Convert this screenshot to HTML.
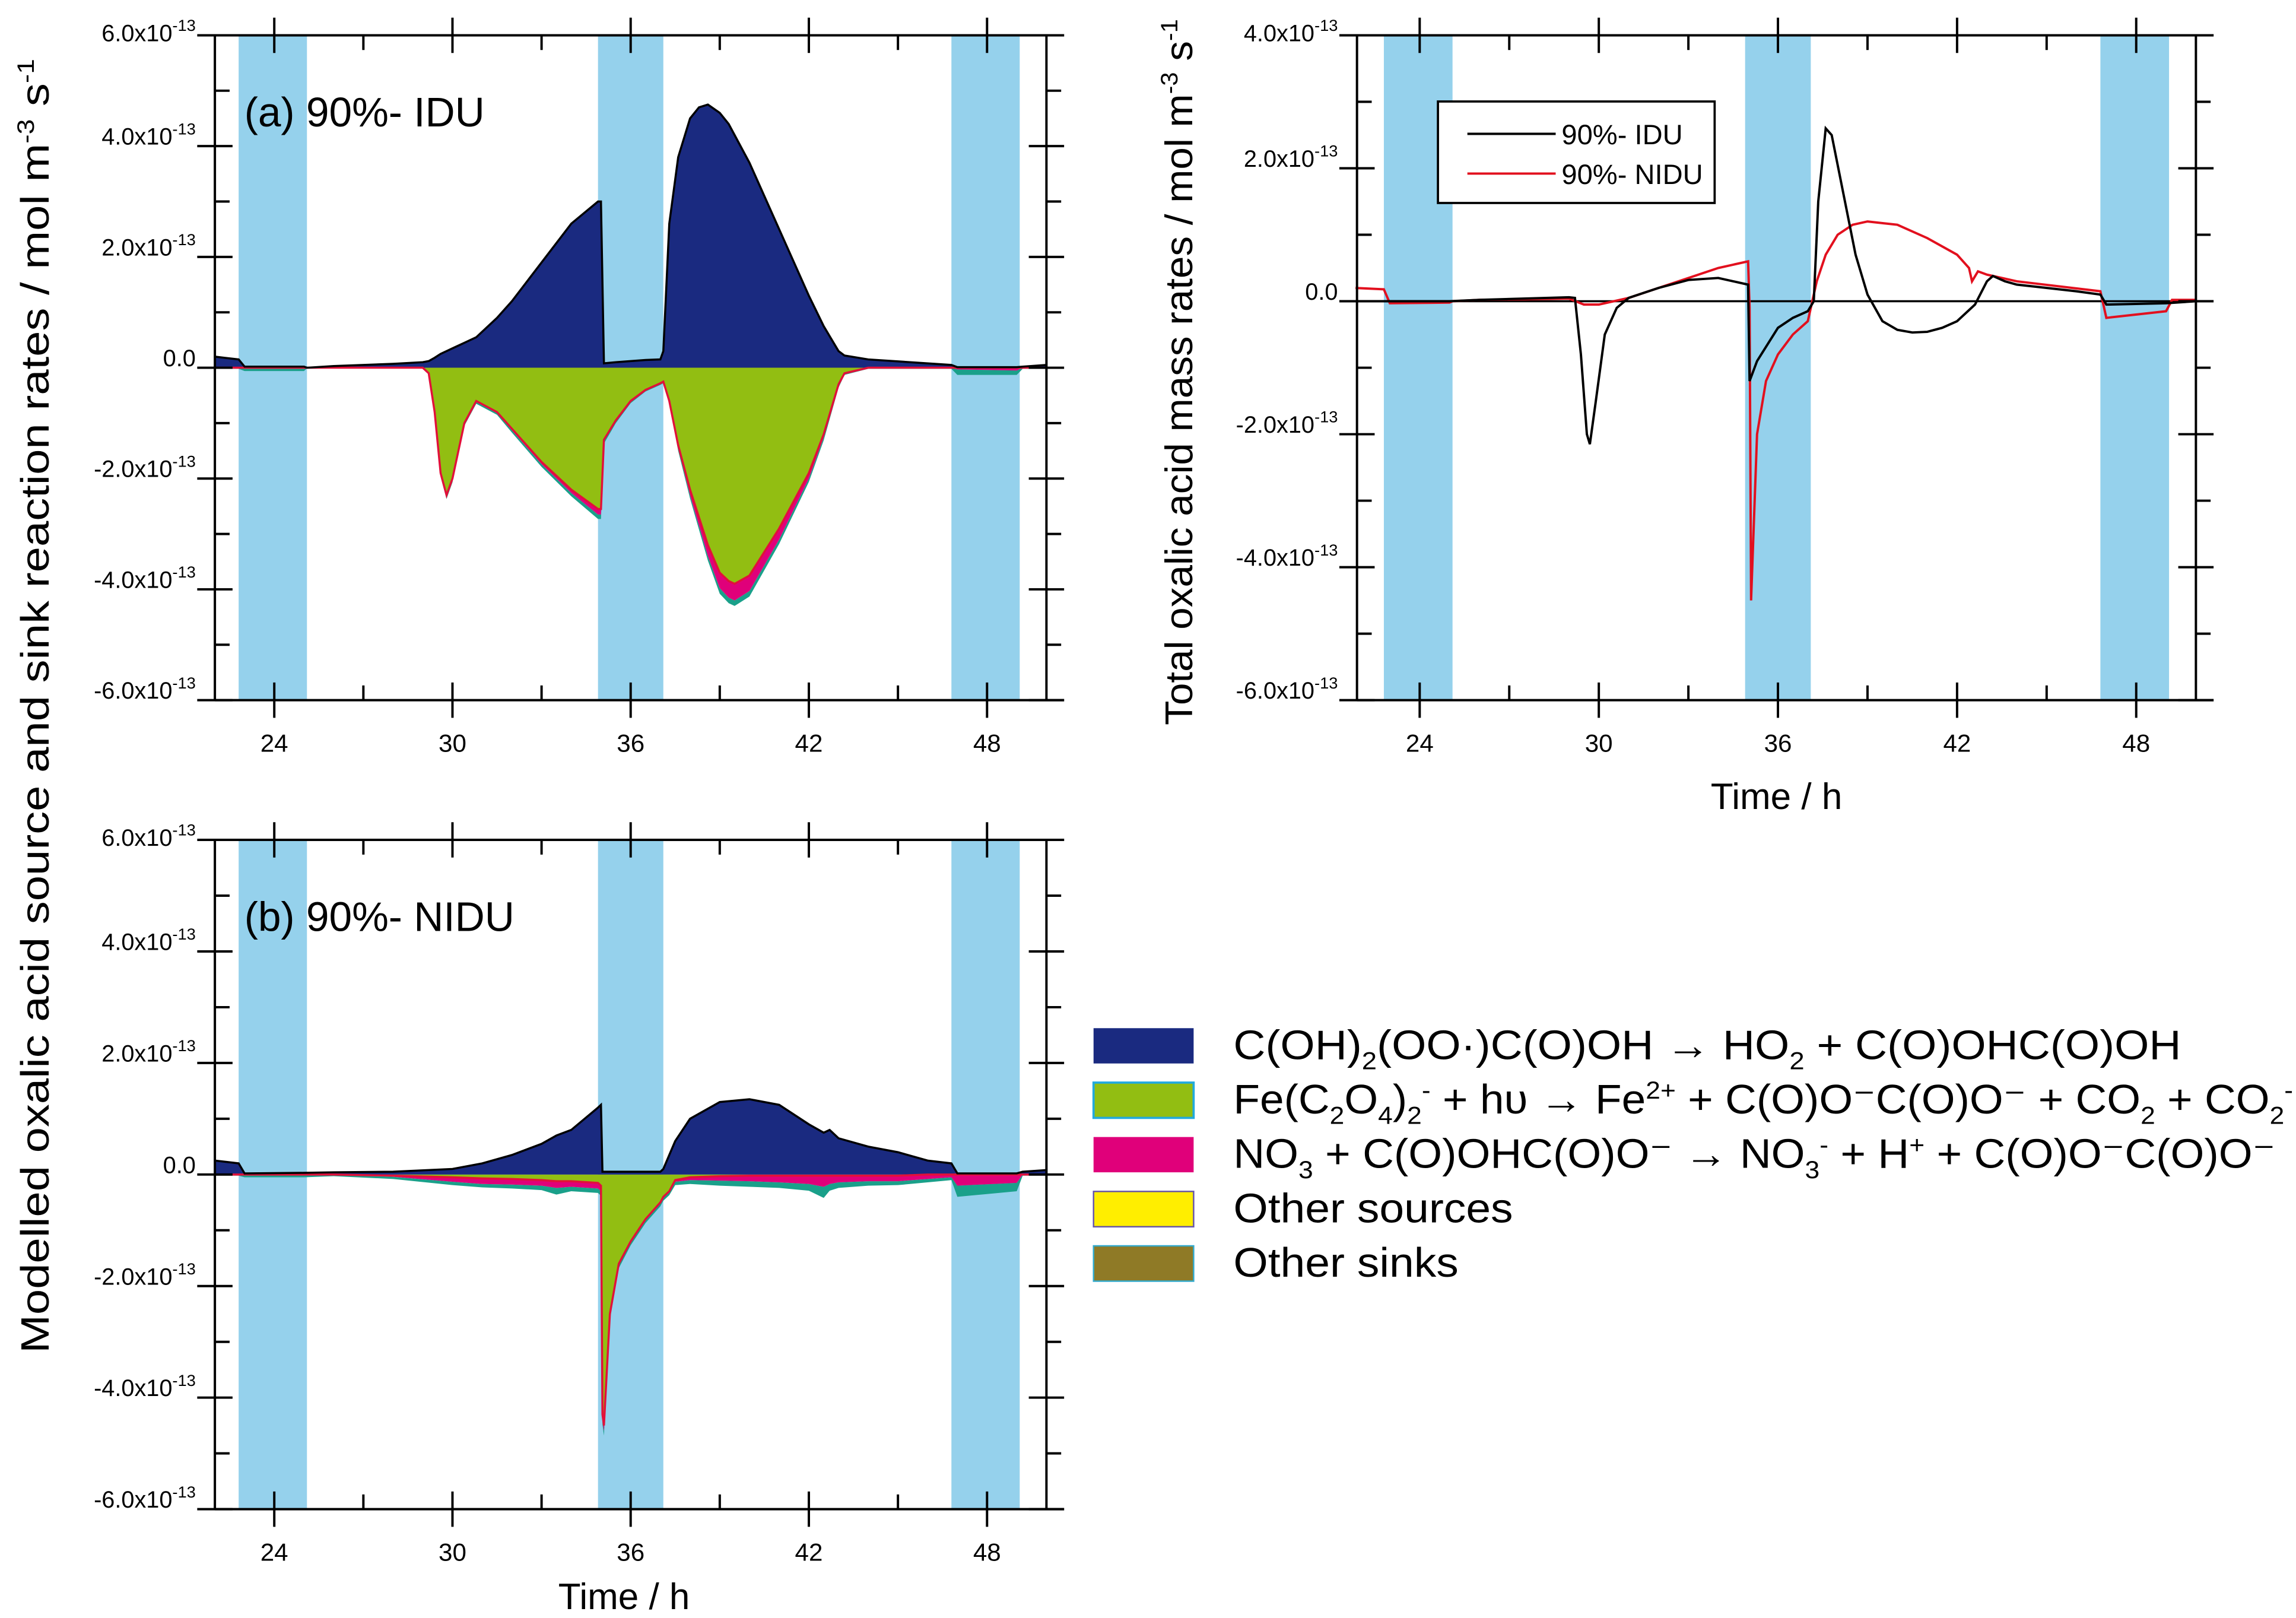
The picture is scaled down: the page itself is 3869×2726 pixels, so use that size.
<!DOCTYPE html>
<html><head><meta charset="utf-8"><style>
html,body{margin:0;padding:0;background:#fff}
svg{display:block}
text{font-family:"Liberation Sans","DejaVu Sans",sans-serif;fill:#000}
</style></head><body>
<svg id="fig" xmlns="http://www.w3.org/2000/svg" width="3869" height="2726" viewBox="0 0 1560 1100" preserveAspectRatio="none">
<g id="pa"></g>
<g id="pb"></g>
<g id="pc"></g>
<text transform="translate(33,480) rotate(-90)" text-anchor="middle" font-size="27" textLength="880" lengthAdjust="spacingAndGlyphs">Modelled oxalic acid source and sink reaction rates / mol m<tspan dy="-10" font-size="16">-3</tspan><tspan dy="10"> s</tspan><tspan dy="-10" font-size="16">-1</tspan></text>
<text transform="translate(810,253) rotate(-90)" text-anchor="middle" font-size="26" textLength="480" lengthAdjust="spacingAndGlyphs">Total oxalic acid  mass rates / mol m<tspan dy="-10" font-size="16">-3</tspan><tspan dy="10"> s</tspan><tspan dy="-10" font-size="16">-1</tspan></text>
<text x="1207" y="550" text-anchor="middle" font-size="25">Time / h</text>
<text x="424" y="1094" text-anchor="middle" font-size="25">Time / h</text>
<g font-size="28">
<rect x="743" y="699" width="68" height="24" fill="#1a2a80"/>
<rect x="743" y="736" width="68" height="24" fill="#92be12" stroke="#22aadd" stroke-width="1.5"/>
<rect x="743" y="773" width="68" height="24" fill="#e0007a"/>
<rect x="743" y="810" width="68" height="24" fill="#ffee00" stroke="#6655aa" stroke-width="1"/>
<rect x="743" y="847" width="68" height="24" fill="#8f7a26" stroke="#33aacc" stroke-width="1"/>
<text x="838" y="720" textLength="644" lengthAdjust="spacingAndGlyphs">C(OH)<tspan dy="7" font-size="17">2</tspan><tspan dy="-7">(OO·)C(O)OH → HO</tspan><tspan dy="7" font-size="17">2</tspan><tspan dy="-7"> + C(O)OHC(O)OH</tspan></text>
<text x="838" y="757" textLength="720" lengthAdjust="spacingAndGlyphs">Fe(C<tspan dy="7" font-size="17">2</tspan><tspan dy="-7">O</tspan><tspan dy="7" font-size="17">4</tspan><tspan dy="-7">)</tspan><tspan dy="7" font-size="17">2</tspan><tspan dy="-17" font-size="17">-</tspan><tspan dy="10"> + hυ → Fe</tspan><tspan dy="-10" font-size="17">2+</tspan><tspan dy="10"> + C(O)O⁻C(O)O⁻ + CO</tspan><tspan dy="7" font-size="17">2</tspan><tspan dy="-7"> + CO</tspan><tspan dy="7" font-size="17">2</tspan><tspan dy="-17" font-size="17">-</tspan></text>
<text x="838" y="794" textLength="708" lengthAdjust="spacingAndGlyphs">NO<tspan dy="7" font-size="17">3</tspan><tspan dy="-7"> + C(O)OHC(O)O⁻ → NO</tspan><tspan dy="7" font-size="17">3</tspan><tspan dy="-17" font-size="17">-</tspan><tspan dy="10"> + H</tspan><tspan dy="-10" font-size="17">+</tspan><tspan dy="10"> + C(O)O⁻C(O)O⁻</tspan></text>
<text x="838" y="831" textLength="190" lengthAdjust="spacingAndGlyphs">Other sources</text>
<text x="838" y="868" textLength="153" lengthAdjust="spacingAndGlyphs">Other sinks</text>
</g>
</svg>
<script>
// ---- Panel (a) 90%-IDU data (units 1e-13 mol m-3 s-1) ----
const tA = [22,22.8,23,25,25.1,26,28,29,29.2,29.4,29.6,29.8,30,30.4,30.8,31.5,32,33,34,34.9,35,35.1,35.5,36,36.5,37,37.1,37.3,37.6,38,38.3,38.6,39,39.3,39.5,40,41,42,42.5,43,43.2,44,46.8,47,49,49.2,50];
const srcA = [0.2,0.15,0.02,0.02,0,0.03,0.07,0.1,0.12,0.18,0.25,0.3,0.35,0.45,0.55,0.9,1.2,1.9,2.6,3.0,3.0,0.08,0.1,0.12,0.14,0.15,0.3,2.6,3.8,4.5,4.7,4.75,4.6,4.4,4.2,3.7,2.5,1.3,0.75,0.3,0.22,0.15,0.05,0.01,0.01,0.02,0.05];
const feA = [0,0,0,0,0,0,0,0,0.1,0.8,1.9,2.3,2.0,1.0,0.6,0.8,1.1,1.7,2.2,2.55,2.55,1.3,0.95,0.6,0.4,0.28,0.25,0.6,1.4,2.2,2.7,3.2,3.7,3.85,3.9,3.75,2.9,1.9,1.2,0.3,0.1,0,0,0,0,0,0];
const no3A = [0,0,0.01,0.01,0,0,0,0,0,0.02,0.03,0.03,0.03,0.02,0.02,0.02,0.03,0.04,0.06,0.1,0.1,0.03,0.02,0.02,0.01,0.01,0.01,0.02,0.05,0.1,0.15,0.2,0.28,0.3,0.3,0.28,0.2,0.1,0.06,0.03,0.01,0,0,0.03,0.05,0,0];
const othA = [0.02,0.02,0.05,0.05,0.01,0.01,0.01,0.01,0.02,0.03,0.04,0.04,0.04,0.03,0.03,0.03,0.04,0.05,0.06,0.08,0.08,0.04,0.03,0.02,0.02,0.02,0.02,0.03,0.05,0.06,0.07,0.08,0.1,0.1,0.1,0.1,0.08,0.06,0.05,0.03,0.02,0.02,0.02,0.1,0.08,0.02,0.02];
// ---- Panel (b) 90%-NIDU data ----
const tB = [22,22.8,23,25,26,28,30,31,32,33,33.5,34,34.9,35,35.05,35.1,35.3,35.6,36,36.5,37,37.1,37.3,37.5,38,39,40,41,42,42.5,42.7,43,44,45,46,46.8,47,49,49.2,50];
const srcB = [0.25,0.2,0.02,0.03,0.04,0.05,0.1,0.2,0.35,0.55,0.7,0.8,1.2,1.25,0.05,0.05,0.05,0.05,0.05,0.05,0.05,0.1,0.35,0.6,1.0,1.3,1.35,1.25,0.9,0.75,0.8,0.65,0.5,0.4,0.25,0.2,0.02,0.02,0.05,0.08];
const feB = [0,0,0,0,0,0.02,0.05,0.07,0.08,0.1,0.12,0.12,0.15,0.2,4.3,4.5,2.5,1.6,1.2,0.8,0.5,0.4,0.3,0.1,0.05,0.03,0.02,0.02,0.02,0.02,0.02,0.02,0.02,0.02,0,0,0,0,0,0];
const no3B = [0,0,0,0,0,0.02,0.08,0.1,0.1,0.1,0.12,0.1,0.1,0.1,0.1,0.1,0.05,0.03,0.02,0.02,0.02,0.02,0.02,0.03,0.05,0.08,0.1,0.12,0.15,0.2,0.15,0.12,0.1,0.1,0.08,0.05,0.2,0.15,0,0];
const othB = [0.02,0.02,0.05,0.05,0.03,0.04,0.06,0.06,0.07,0.08,0.12,0.08,0.08,0.08,0.08,0.08,0.06,0.05,0.05,0.05,0.05,0.05,0.05,0.06,0.07,0.09,0.1,0.1,0.12,0.2,0.12,0.1,0.08,0.07,0.06,0.05,0.2,0.15,0.02,0.02];
// ---- Right panel: total oxalic acid mass rates ----
const tIDU = [21.85,22.8,23,25,26,29,29.2,29.4,29.6,29.7,29.9,30.2,30.6,31,32,33,34,35,35.05,35.3,36,36.5,37,37.2,37.35,37.6,37.8,38.2,38.6,39,39.5,40,40.5,41,41.5,42,42.6,43,43.2,43.6,44,46,46.8,47,49,50];
const vIDU = [0,0,0,0,0.02,0.06,0.05,-0.8,-2.0,-2.15,-1.5,-0.5,-0.1,0.05,0.2,0.32,0.35,0.25,-1.2,-0.9,-0.4,-0.25,-0.15,0,1.5,2.6,2.5,1.6,0.7,0.1,-0.3,-0.43,-0.47,-0.46,-0.4,-0.3,-0.05,0.3,0.38,0.3,0.25,0.15,0.1,-0.05,-0.03,0];
const tNIDU = [21.85,22.8,23,25,25.1,26,29,29.5,30,31,32,33,34,35,35.05,35.1,35.3,35.6,36,36.5,37,37.3,37.6,38,38.5,39,40,41,42,42.4,42.5,42.7,43,44,46.8,47,49,49.2,50];
const vNIDU = [0.2,0.18,-0.03,-0.02,0,0.02,0.04,-0.05,-0.05,0.05,0.2,0.35,0.5,0.6,-0.1,-4.5,-2.0,-1.2,-0.8,-0.5,-0.3,0.3,0.7,1.0,1.15,1.2,1.15,0.95,0.7,0.5,0.3,0.45,0.4,0.3,0.15,-0.25,-0.15,0.02,0.02];
const nightBands = [[22.8,25.1],[34.9,37.1],[46.8,49.1]];
const xTickLabels = [24,30,36,42,48];

const NS='http://www.w3.org/2000/svg';
function mk(parent,tag,attrs){const e=document.createElementNS(NS,tag);for(const k in attrs)e.setAttribute(k,attrs[k]);parent.appendChild(e);return e;}

function panel(g,box,ymin,ymax,xmin,xmax,name){
  const sx=t=>box.l+(t-xmin)/(xmax-xmin)*(box.r-box.l);
  const sy=v=>box.b-(v-ymin)/(ymax-ymin)*(box.b-box.t);
  nightBands.forEach((b,i)=>{
    const r=mk(g,'rect',{x:sx(b[0]),y:box.t,width:sx(b[1])-sx(b[0]),height:box.b-box.t,fill:'#95d1ec'});
    
    
  });
  return {sx,sy};
}
function frame(g,box,ymin,ymax,sx,sy,name,yLabels){
  const ax=mk(g,'g',{stroke:'#000','stroke-width':1.6,fill:'none'});
  
  
  mk(ax,'line',{x1:box.l,y1:box.t,x2:box.r+12,y2:box.t});
  mk(ax,'line',{x1:box.l,y1:box.b,x2:box.r+12,y2:box.b});
  mk(ax,'line',{x1:box.l,y1:box.t,x2:box.l,y2:box.b});
  mk(ax,'line',{x1:box.r,y1:box.t,x2:box.r,y2:box.b});
  for(let v=ymin;v<=ymax;v++){
    const y=sy(v),maj=(v%2===0);
    mk(ax,'line',{x1:box.l-(maj?12:0),y1:y,x2:box.l+(maj?12:10),y2:y});
    mk(ax,'line',{x1:box.r-(maj?12:0),y1:y,x2:box.r+(maj?12:10),y2:y});
  }
  for(let t=24;t<=48;t+=3){
    const x=sx(t),maj=(t%6===0);
    mk(ax,'line',{x1:x,y1:box.b-(maj?12:10),x2:x,y2:box.b+(maj?12:0)});
    mk(ax,'line',{x1:x,y1:box.t-(maj?12:0),x2:x,y2:box.t+(maj?12:10)});
  }
  xTickLabels.forEach(t=>{
    const tx=mk(g,'text',{x:sx(t),y:box.b+35,'text-anchor':'middle','font-size':17});
    tx.textContent=t;
    
    
  });
  yLabels.forEach(v=>{
    const tx=mk(g,'text',{x:box.l-13,y:sy(v)+(v===ymax?4:-1),'text-anchor':'end','font-size':16});
    if(v===0){tx.textContent='0.0';}
    else{tx.textContent=(v>0?'':'-')+Math.abs(v).toFixed(1)+'x10';
      const s=mk(tx,'tspan',{dy:-7,'font-size':11});s.textContent='-13';}
    
    
  });
}
function areaPath(t,lo,hi,sx,sy){
  let d='M'+t.map((x,i)=>sx(x)+','+sy(hi[i])).join('L');
  for(let i=t.length-1;i>=0;i--)d+='L'+sx(t[i])+','+sy(lo[i]);
  return d+'Z';
}
function linePath(t,v,sx,sy){return 'M'+t.map((x,i)=>sx(x)+','+sy(v[i])).join('L');}

function stackPanel(id,box,t,src,fe,no3,oth,name,label){
  const g=document.getElementById(id);
  const {sx,sy}=panel(g,box,-6,6,22,50,name);
  const zero=t.map(()=>0);
  const s1=fe.map(v=>-v), s2=fe.map((v,i)=>-(v+no3[i])), s3=fe.map((v,i)=>-(v+no3[i]+oth[i]));
  const layers=[['other-sinks',s2,s3,'#1aa08a'],['no3-sink',s1,s2,'#e0007a'],['fe-photolysis-sink',zero,s1,'#92be12'],['hydroperoxy-source',zero,src,'#1a2a80']];
  layers.forEach(L=>{
    const p=mk(g,'path',{d:areaPath(t,L[1],L[2],sx,sy),fill:L[3]});
    
    
  });
  const rl=mk(g,'path',{d:linePath(t,s1,sx,sy),fill:'none',stroke:'#e2103a','stroke-width':1.4});
  
  
  const bl=mk(g,'path',{d:linePath(t,src,sx,sy),fill:'none',stroke:'#000','stroke-width':1.4});
  
  
  frame(g,box,-6,6,sx,sy,name,[6,4,2,0,-2,-4,-6]);
  const lb=mk(g,'text',{x:box.l+20,y:box.t+62,'font-size':28});
  lb.textContent=label;
  
  
}
stackPanel('pa',{l:146,r:711,t:24,b:476},tA,srcA,feA,no3A,othA,'panel-a','(a) 90%- IDU');
stackPanel('pb',{l:146,r:711,t:571,b:1026},tB,srcB,feB,no3B,othB,'panel-b','(b) 90%- NIDU');

(function(){
  const g=document.getElementById('pc');
  const box={l:922,r:1492,t:24,b:476};
  const {sx,sy}=panel(g,box,-6,4,21.9,50,'panel-c');
  const z=mk(g,'line',{x1:box.l,y1:sy(0),x2:box.r,y2:sy(0),stroke:'#000','stroke-width':1.4});
  
  
  const r=mk(g,'path',{d:linePath(tNIDU,vNIDU,sx,sy),fill:'none',stroke:'#e2101e','stroke-width':1.6});
  
  
  const b=mk(g,'path',{d:linePath(tIDU,vIDU,sx,sy),fill:'none',stroke:'#000','stroke-width':1.6});
  
  
  frame(g,box,-6,4,sx,sy,'panel-c',[4,2,0,-2,-4,-6]);
  const lg=mk(g,'g',{});
  
  
  mk(lg,'rect',{x:977,y:69,width:188,height:69,fill:'#fff',stroke:'#000','stroke-width':1.5});
  mk(lg,'line',{x1:997,y1:91,x2:1057,y2:91,stroke:'#000','stroke-width':1.6});
  mk(lg,'line',{x1:997,y1:118,x2:1057,y2:118,stroke:'#e2101e','stroke-width':1.6});
  const t1=mk(lg,'text',{x:1061,y:98,'font-size':19});t1.textContent='90%- IDU';
  
  
  const t2=mk(lg,'text',{x:1061,y:125,'font-size':19});t2.textContent='90%- NIDU';
  
  
})();
</script>
</body></html>
